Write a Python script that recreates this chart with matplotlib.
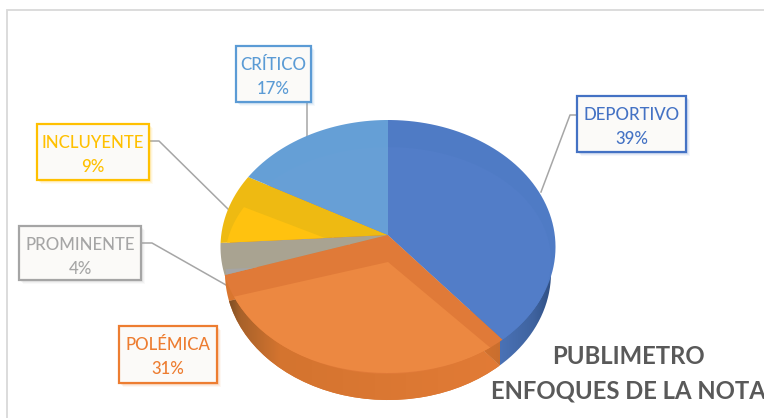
import numpy as np
import matplotlib
matplotlib.use("Agg")
import matplotlib.pyplot as plt
from matplotlib.path import Path
from matplotlib.patches import Rectangle
from matplotlib.transforms import Transform, Affine2D
from matplotlib.colors import LinearSegmentedColormap

categories = ["DEPORTIVO", "POLÉMICA", "PROMINENTE", "INCLUYENTE", "CRÍTICO"]
values = [39, 31, 4, 9, 17]
title_lines = ["PUBLIMETRO", "ENFOQUES DE LA NOTA"]

base_colors = ["#4f7bc5", "#e07a38", "#a9a391", "#eeba12", "#659fd6"]
inner_colors = ["#527dc8", "#ec8841", "#a5a5a5", "#ffc20f", "#679fd6"]
text_colors = ["#4472c4", "#ed7d31", "#a5a5a5", "#ffc000", "#5b9bd5"]


class Persp(Transform):
    """Tilted-disc projection of pie coordinates into figure pixels."""
    input_dims = output_dims = 2
    is_separable = False
    has_inverse = False

    def __init__(self, rx, top, bottom, x0, y0):
        super().__init__()
        self.k = (bottom - top) / (bottom + top)
        self.b = top * (1 + self.k)
        self.a = rx * np.sqrt(1 - self.k ** 2)
        self.x0, self.y0 = x0, y0

    def transform_non_affine(self, values):
        values = np.asarray(values, float)
        u, v = values[:, 0], values[:, 1]
        w = 1 + self.k * v
        return np.column_stack([self.x0 + self.a * u / w, self.y0 - self.b * v / w])

    def transform_path_non_affine(self, path):
        polys = path.transformed(Affine2D().scale(400)).to_polygons(closed_only=True)
        verts = np.concatenate(polys) / 400
        return Path(self.transform_non_affine(verts), closed=True)


W, H = 764, 418
fig = plt.figure(figsize=(W / 100, H / 100), dpi=100, facecolor="white")
ax = fig.add_axes([0, 0, 1, 1])


def pie_layer(colors, persp, zorder):
    wedges, _ = ax.pie(values, colors=colors, startangle=90, counterclock=False,
                       wedgeprops=dict(linewidth=0))
    for w in wedges:
        w.set_transform(persp + ax.transData)
        w.set_zorder(zorder)
        w.set_clip_on(True)
    return wedges


CX = 388
wall_persp = Persp(163, 115, 139, CX, 261)
top_persp = Persp(167.5, 115, 139, CX, 235)
inner_persp = Persp(163, 115, 111, CX, 262)

wall = pie_layer(["none", "#d9762f", "#d9762f", "#d9762f", "#d9762f"], wall_persp, 1)
top = pie_layer(base_colors, top_persp, 3)
inner = pie_layer(inner_colors, inner_persp, 4)

# shaded side of the disc
orange_cm = LinearSegmentedColormap.from_list(
    "o", [(0, "#6e4824"), (0.06, "#a9622a"), (0.2, "#d4742f"), (1, "#e27b36")])
blue_cm = LinearSegmentedColormap.from_list(
    "b", [(0, "#4a72b6"), (0.6, "#3f639f"), (1, "#2c4a7c")])
grad = np.linspace(0, 1, 256)[None, :]
im1 = ax.imshow(grad, cmap=orange_cm, extent=[224, 502, 405, 270], aspect="auto", zorder=2)
im2 = ax.imshow(grad, cmap=blue_cm, extent=[500, 556, 405, 250], aspect="auto", zorder=2)
seam_cm = LinearSegmentedColormap.from_list("s", ["#d87530", "#c96e2e"])
im3 = ax.imshow(grad, cmap=seam_cm, extent=[470, 500, 405, 300], aspect="auto", zorder=2)

ax.set_aspect("auto")
ax.set_xlim(0, W)
ax.set_ylim(H, 0)
ax.axis("off")

# each bevel face stays inside its own slice
for w_in, w_top in zip(inner, top):
    w_in.set_clip_path(w_top)
im1.set_clip_path(wall[1])
im2.set_clip_path(wall[0])
im3.set_clip_path(wall[0])

# chart frame
ax.plot([7, 7, W], [H, 10, 10], color="#d9d9d9", lw=1.3, zorder=0, solid_joinstyle="miter")

# leader lines
leaders = {
    "DEPORTIVO": ([577, 570, 541], [115, 115, 192]),
    "PROMINENTE": ([141, 152, 226], [243, 243, 285]),
    "INCLUYENTE": ([149, 159, 229], [141, 141, 210]),
    "CRÍTICO": ([307, 307], [102, 137]),
}
for xs, ys in leaders.values():
    ax.plot(xs, ys, color="#a6a6a6", lw=1.1, zorder=0.5)

# label boxes: x0, y0, x1, y1
boxes = {
    "DEPORTIVO": (577, 96, 686, 152),
    "POLÉMICA": (119, 326, 217, 383),
    "PROMINENTE": (19, 226, 141, 280),
    "INCLUYENTE": (37, 124, 149, 180),
    "CRÍTICO": (236, 46, 311, 102),
}
font = "Lato"
for name, val, tc in zip(categories, values, text_colors):
    x0, y0, x1, y1 = boxes[name]
    for d, a in ((4, 0.06), (3, 0.09), (2, 0.12)):
        ax.add_patch(Rectangle((x0 + d, y0 + d), x1 - x0, y1 - y0, fc=tc, ec="none",
                               alpha=a, zorder=5))
    ax.add_patch(Rectangle((x0, y0), x1 - x0, y1 - y0, fc="#fbfaf8", ec=tc, lw=1.6, zorder=6))
    xc = (x0 + x1) / 2
    ax.text(xc, y0 + 18.5, name, color=tc, ha="center", va="center", fontsize=12.1,
            family=font, fontweight="medium", zorder=7)
    ax.text(xc, y0 + 42.5, f"{val}%", color=tc, ha="center", va="center", fontsize=12.1,
            family=font, fontweight="medium", zorder=7)

for line, y in zip(title_lines, (357, 391)):
    ax.text(628, y, line, color="#595959", ha="center", va="center", fontsize=17.2,
            family=font, fontweight="bold", zorder=7)

fig.savefig("out.png", dpi=100, facecolor="white")
